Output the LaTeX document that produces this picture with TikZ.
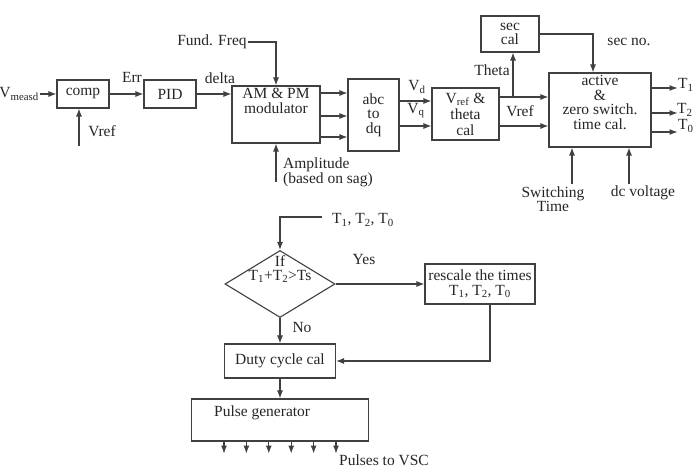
\documentclass[tikz,border=0pt]{standalone}
\usepackage{fontspec}
\setmainfont{Liberation Serif}
\usetikzlibrary{arrows.meta, positioning, shapes.geometric}

\begin{document}
\begin{tikzpicture}[
    x=1pt, y=-1pt,
    every node/.style={font=\fontsize{15.5}{14.5}\selectfont, text=black!85},
    blk/.style={rectangle, draw=black!75, line width=1.1pt, align=center, inner sep=2pt},
    lbl/.style={inner sep=1pt, align=center},
    arrow/.style={-{Latex[length=8pt, width=6pt]}, line width=1.1pt, draw=black!75}
]

% Background fixing the page size
\fill[white] (0,0) rectangle (699,470);
\useasboundingbox (0,0) rectangle (699,470);

% Control chain
\node[lbl, anchor=east] (vm) at (40,94) {V\textsubscript{measd}};
\node[blk, minimum width=52pt, minimum height=28pt] (comp) at (83,94) {comp};
\coordinate (vrin) at (79,146);
\node[lbl] (vref1) at (102,131) {Vref};
\node[blk, minimum width=52pt, minimum height=28pt] (pid) at (170,94) {PID};
\node[lbl] (err) at (132,77) {Err};
\node[lbl] (delta) at (220,78) {delta};

% Modulator
\node[blk, minimum width=88pt, minimum height=57pt,
      label={[lbl, anchor=north, yshift=-2pt]north:AM \& PM\\modulator}] (mod) at (276,114.5) {};
\node[lbl] (ff) at (212,42) {Fund. Freq};
\coordinate (ampin) at (276,182);
\node[lbl, anchor=north west, align=left] (amp) at (282,157) {Amplitude\\(based on sag)};

% abc to dq and reference calculation
\node[blk, minimum width=51pt, minimum height=72pt] (abc) at (373.5,115) {abc\\to\\dq};
\node[lbl] (vd) at (417,87) {V\textsubscript{d}};
\node[lbl] (vq) at (416,111) {V\textsubscript{q}};
\node[blk, minimum width=67pt, minimum height=52pt, font=\fontsize{15.5}{16}\selectfont] (vt) at (465.5,114) {V\textsubscript{ref} \&\\theta\\cal};
\node[blk, minimum width=58pt, minimum height=36pt] (sec) at (510,34) {sec\\cal};
\coordinate (tj) at (513,97);
\node[lbl] (theta) at (492,70) {Theta};
\node[lbl] (vref2) at (520,111) {Vref};
\node[lbl] (secno) at (629,42) {sec no.};

% Switching time calculation
\node[blk, minimum width=102pt, minimum height=74pt,
      label={[lbl, anchor=north, yshift=-2pt]north:active\\\&\\zero switch.\\time cal.}] (act) at (600,110) {};
\node[lbl, anchor=west] (t1) at (677,85) {T\textsubscript{1}};
\node[lbl, anchor=west] (t2) at (676,110) {T\textsubscript{2}};
\node[lbl, anchor=west] (t0) at (677,126) {T\textsubscript{0}};
\coordinate (swin) at (572,184);
\node[lbl] (sw) at (553,199) {Switching\\Time};
\coordinate (dcin) at (629,184);
\node[lbl] (dc) at (643,193) {dc voltage};

% Connections of the upper chain
\draw[arrow] (vm) -- (comp);
\draw[arrow] (vrin) -- (vrin |- comp.south);
\draw[arrow] (comp) -- (pid);
\draw[arrow] (pid.east) -- (pid.east -| mod.west);
\draw[arrow] (ff) -| (mod);
\draw[arrow] (ampin) -- (mod);
\foreach \dy in {21.5,-1.5,-22.5}
    \draw[arrow] ([yshift=\dy pt]mod.east) -- ([yshift=\dy pt]mod.east -| abc.west);
\foreach \dy in {13,-12}
    \draw[arrow] ([yshift=\dy pt]vt.west -| abc.east) -- ([yshift=\dy pt]vt.west);
\foreach \dy in {17,-12}
    \draw[arrow] ([yshift=\dy pt]vt.east) -- ([yshift=\dy pt]vt.east -| act.west);
\draw[arrow] (tj) -- (tj |- sec.south);
\draw[arrow] (sec) -| ([xshift=-7pt]act.north);
\foreach \dy in {22,-3,-22}
    \draw[arrow] ([yshift=\dy pt]act.east) -- ++(26,0);
\draw[arrow] (swin) -- (swin |- act.south);
\draw[arrow] (dcin) -- (dcin |- act.south);

% Flow chart
\coordinate (tin) at (322,217);
\node[lbl, anchor=west] (tlist) at (331,220) {T\textsubscript{1}, T\textsubscript{2}, T\textsubscript{0}};
\node[diamond, draw=black!75, line width=1.1pt, minimum width=110pt, minimum height=67pt, inner sep=0pt,
      label={[lbl, yshift=15pt]center:If\\T\textsubscript{1}+T\textsubscript{2}>Ts}] (dec) at (280,284) {};
\node[lbl] (yes) at (364,260) {Yes};
\node[lbl] (no) at (302,328) {No};
\node[blk, minimum width=110pt, minimum height=40pt] (rsc) at (480,284)
    {rescale the times\\T\textsubscript{1}, T\textsubscript{2}, T\textsubscript{0}};
\node[blk, minimum width=111pt, minimum height=34pt] (duty) at (280,361) {Duty cycle cal};
\node[blk, minimum width=177pt, minimum height=42pt,
      label={[lbl, anchor=north west, xshift=22pt, yshift=-6pt]north west:Pulse generator}] (pulse) at (280,420) {};
\node[lbl] (vsc) at (384,460) {Pulses to VSC};

\draw[arrow] (tin) -| (dec);
\draw[arrow] (dec) -- (rsc);
\draw[arrow] (dec) -- (duty);
\draw[arrow] ([xshift=10pt]rsc.south) |- (duty);
\draw[arrow] (duty) -- (pulse);
\foreach \dx in {-56,-33.6,-11.2,11.2,33.6,56}
    \draw[arrow] ([xshift=\dx pt]pulse.south) -- ++(0,12);

\end{tikzpicture}
\end{document}
